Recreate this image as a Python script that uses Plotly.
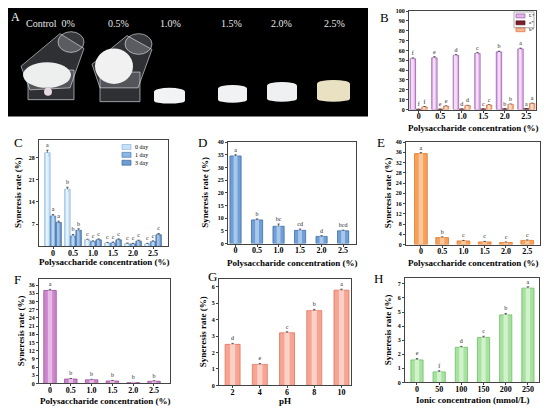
import plotly.graph_objects as go

# The page body has an 8 px margin, so the figure is drawn 8 px smaller and all
# layout positions (in reference pixels) are shifted by that margin.
PAGE_W, PAGE_H, PAD = 550, 415, 8
W, H = PAGE_W - PAD, PAGE_H - PAD
FONT = "Liberation Serif"

# ---------------- data ----------------
conc = ["0", "0.5", "1.0", "1.5", "2.0", "2.5"]
ph_labels = ["2", "4", "6", "8", "10"]
ion_labels = ["0", "50", "100", "150", "200", "250"]

# B: colour (L*, a*, b*)
B_L = [51.5, 52.5, 55.0, 57.0, 58.5, 61.5]
B_L_err = [1.0, 1.2, 0.8, 0.9, 0.7, 0.8]
B_L_sig = ["f", "e", "d", "c", "b", "a"]
B_a = [0.2, 0.3, 0.4, 0.5, 0.6, 0.7]
B_a_err = [0.1, 0.1, 0.1, 0.1, 0.1, 0.1]
B_a_sig = ["f", "e", "d", "c", "b", "a"]
B_b = [2.6, 3.4, 4.0, 4.5, 5.3, 6.2]
B_b_err = [0.3, 0.3, 0.3, 0.3, 0.3, 0.3]
B_b_sig = ["f", "e", "d", "c", "b", "a"]

# C: storage days
C_d0 = [29.5, 18.0, 2.0, 1.0, 0.8, 0.7]
C_d0_err = [0.8, 0.6, 0.2, 0.2, 0.2, 0.2]
C_d0_sig = ["a", "b", "c", "c", "c", "c"]
C_d1 = [9.5, 3.2, 1.4, 1.0, 0.7, 1.4]
C_d1_err = [0.5, 0.5, 0.3, 0.3, 0.2, 0.3]
C_d1_sig = ["a", "b", "c", "c", "c", "c"]
C_d3 = [7.5, 5.0, 2.0, 2.0, 1.6, 3.6]
C_d3_err = [0.4, 0.5, 0.3, 0.3, 0.3, 0.4]
C_d3_sig = ["a", "b", "c", "c", "c", "c"]

# D
D_val = [34.5, 9.3, 6.8, 5.2, 2.8, 5.0]
D_err = [0.5, 0.4, 0.9, 0.5, 0.3, 0.3]
D_sig = ["a", "b", "bc", "cd", "d", "bcd"]
# E
E_val = [35.5, 2.7, 1.4, 1.0, 0.8, 1.6]
E_err = [0.4, 0.3, 0.2, 0.2, 0.2, 0.2]
E_sig = ["a", "b", "c", "c", "c", "c"]
# F
F_val = [34.0, 1.6, 1.3, 0.9, 0.3, 0.8]
F_err = [0.4, 0.2, 0.2, 0.2, 0.1, 0.2]
F_sig = ["a", "b", "b", "b", "b", "b"]
# G (pH)
G_val = [2.5, 1.28, 3.2, 4.55, 5.8]
G_err = [0.06, 0.05, 0.07, 0.08, 0.06]
G_sig = ["d", "e", "c", "b", "a"]
# H (ionic)
H_val = [1.6, 0.75, 2.5, 3.2, 4.8, 6.7]
H_err = [0.1, 0.08, 0.06, 0.08, 0.1, 0.1]
H_sig = ["e", "f", "d", "c", "b", "a"]

# ---------------- helpers ----------------
def px(x):
    return (x - PAD) / W

def py(y):
    return 1 - (y - PAD) / H

def clamp(v):
    return min(1.0, max(0.0, v))

fig = go.Figure()
shapes = []
annotations = []

def text_at(t, x, y, size, color="black", bold=False, angle=0, anchor="center"):
    annotations.append(dict(text=f"<b>{t}</b>" if bold else t, x=px(x), y=py(y),
                            xref="paper", yref="paper", showarrow=False,
                            xanchor=anchor, yanchor="middle", textangle=angle,
                            font=dict(family=FONT, size=size, color=color)))

def setup_axes(n, xbox, ybox, xr, yr, ticktext, yticks, xtitle, xt_y, ytitle=None, yt_x=None):
    xa = "xaxis" if n == 1 else f"xaxis{n}"
    ya = "yaxis" if n == 1 else f"yaxis{n}"
    xid = "x" if n == 1 else f"x{n}"
    yid = "y" if n == 1 else f"y{n}"
    common = dict(showline=True, mirror=True, linecolor="#444", linewidth=1,
                  ticks="outside", ticklen=2, tickwidth=1, tickcolor="#444",
                  showgrid=False, zeroline=False)
    fig.update_layout(**{
        xa: dict(domain=[clamp(px(xbox[0])), clamp(px(xbox[1]))], anchor=yid, range=xr,
                 tickvals=list(range(len(ticktext))), ticktext=ticktext,
                 ticklabelstandoff=-3,
                 tickfont=dict(family=FONT, size=8, color="black", weight="bold"),
                 **common),
        ya: dict(domain=[clamp(py(ybox[1])), clamp(py(ybox[0]))], anchor=xid, range=yr,
                 tickvals=yticks,
                 tickfont=dict(family=FONT, size=6, color="black", weight="bold"),
                 **common),
    })
    text_at(xtitle, (xbox[0] + xbox[1]) / 2, xt_y, 9, bold=True)
    if ytitle:
        text_at(ytitle, yt_x, (ybox[0] + ybox[1]) / 2, 9, bold=True, angle=-90)
    return xid, yid

def bars(xid, yid, vals, errs, sigs, color, edge, width, offset, ymax, light=None):
    xs = list(range(len(vals)))
    fig.add_trace(go.Bar(
        x=xs, y=vals, width=width, offset=offset - width / 2, xaxis=xid, yaxis=yid,
        marker=dict(color=color, line=dict(color=edge, width=0.8)),
        error_y=dict(type="data", array=errs, color="#333", thickness=0.7, width=1.2),
        showlegend=False, hoverinfo="skip"))
    if light is not None:
        fig.add_trace(go.Bar(
            x=xs, y=vals, width=width * 0.35, offset=offset - width * 0.35 / 2,
            xaxis=xid, yaxis=yid, marker=dict(color=light, line=dict(width=0)),
            showlegend=False, hoverinfo="skip"))
    fig.add_trace(go.Scatter(
        x=[x + offset for x in xs],
        y=[v + e + ymax * 0.015 for v, e in zip(vals, errs)],
        mode="text", text=sigs, textposition="top center",
        textfont=dict(family=FONT, size=6, color="#222"),
        xaxis=xid, yaxis=yid, showlegend=False, hoverinfo="skip", cliponaxis=False))

def legend_box(x0, y0, rows, color_list, edge_list, fs):
    for i, (lab, c, e) in enumerate(zip(rows, color_list, edge_list)):
        yy = y0 + i * (fs + 2)
        shapes.append(dict(type="rect", xref="paper", yref="paper",
                           x0=px(x0), x1=px(x0 + 9), y0=py(yy + fs / 2 - 0.5), y1=py(yy - fs / 2 + 0.5),
                           fillcolor=c, line=dict(color=e, width=0.7)))
        text_at(lab, x0 + 11, yy, fs, anchor="left")

YT = "Syneresis rate (%)"
XT = "Polysaccharide concentration (%)"

# ---------------- panel B ----------------
xid, yid = setup_axes(1, (409, 536), (8, 108), [-0.45, 5.45], [0, 100], conc,
                      list(range(0, 101, 10)), XT, 127)
bars(xid, yid, B_L, B_L_err, B_L_sig, "#E2B4EA", "#9A5AAE", 0.25, -0.27, 100, "#F3DDF6")
bars(xid, yid, B_a, B_a_err, B_a_sig, "#7A1F2E", "#5A1020", 0.25, 0.0, 100)
bars(xid, yid, B_b, B_b_err, B_b_sig, "#F6B48E", "#E07040", 0.25, 0.27, 100, "#FBDCC8")
legend_box(516, 13, ["L*", "a*", "b*"], ["#E2B4EA", "#7A1F2E", "#F6B48E"],
           ["#9A5AAE", "#5A1020", "#E07040"], 5)
shapes.append(dict(type="rect", xref="paper", yref="paper", x0=px(514), x1=px(534),
                   y0=py(25), y1=py(9), line=dict(color="#777", width=0.6)))

# ---------------- panel C ----------------
xid, yid = setup_axes(2, (39, 168), (139, 246.7), [-0.7, 5.75], [0, 33.5], conc,
                      [7, 14, 21, 28], XT, 263, YT, 18)
bars(xid, yid, C_d0, C_d0_err, C_d0_sig, "#C9E1F5", "#8AB8E0", 0.27, -0.28, 33, "#E6F2FB")
bars(xid, yid, C_d1, C_d1_err, C_d1_sig, "#8DB6E0", "#4A7DB8", 0.27, 0.0, 33, "#B9D4EE")
bars(xid, yid, C_d3, C_d3_err, C_d3_sig, "#6F9DD0", "#3A66A0", 0.27, 0.28, 33, "#A2C2E6")
legend_box(122, 146, ["0 day", "1 day", "3 day"], ["#C9E1F5", "#8DB6E0", "#6F9DD0"],
           ["#8AB8E0", "#4A7DB8", "#3A66A0"], 6)

# ---------------- panel D ----------------
xid, yid = setup_axes(3, (228, 356), (141, 244), [-0.35, 5.6], [0, 40], conc,
                      list(range(0, 41, 5)), XT, 264, YT, 205)
bars(xid, yid, D_val, D_err, D_sig, "#6F9FD6", "#3F6FA8", 0.52, 0.0, 40, "#A9C7EA")

# ---------------- panel E ----------------
xid, yid = setup_axes(4, (406, 540), (141, 245), [-0.7, 5.6], [0, 40], conc,
                      list(range(0, 41, 4)), XT, 264, YT, 388)
bars(xid, yid, E_val, E_err, E_sig, "#F6A05C", "#E07A2A", 0.6, 0.0, 40, "#FAC89C")

# ---------------- panel F ----------------
xid, yid = setup_axes(5, (39, 170), (280, 386), [-0.53, 5.77], [0, 38.2], conc,
                      list(range(0, 37, 3)), XT, 404, YT, 21)
bars(xid, yid, F_val, F_err, F_sig, "#CC86CC", "#9A4E9A", 0.6, 0.0, 38, "#E6BCE6")

# ---------------- panel G ----------------
xid, yid = setup_axes(6, (219, 351), (280, 388), [-0.5, 4.35], [0, 6.48], ph_labels,
                      list(range(0, 7)), "pH", 404, YT, 203)
bars(xid, yid, G_val, G_err, G_sig, "#F7A592", "#E0735E", 0.55, 0.0, 6.5, "#FBD0C6")

# ---------------- panel H ----------------
xid, yid = setup_axes(7, (405, 539), (279, 385), [-0.54, 5.5], [0, 7.42], ion_labels,
                      list(range(0, 8)), "Ionic concentration (mmol/L)", 403, YT, 388)
bars(xid, yid, H_val, H_err, H_sig, "#A8E2A0", "#6CBF64", 0.55, 0.0, 7.4, "#D2F2CC")

# ---------------- panel A (photo placeholder) ----------------
def poly(points, fill, line="rgba(0,0,0,0)", lw=0):
    d = "M " + " L ".join(f"{px(x):.4f},{py(y):.4f}" for x, y in points) + " Z"
    shapes.append(dict(type="path", path=d, xref="paper", yref="paper",
                       fillcolor=fill, line=dict(color=line, width=lw), layer="above"))

def ellipse(x0, x1, y0, y1, fill, line="rgba(0,0,0,0)", lw=0):
    shapes.append(dict(type="circle", xref="paper", yref="paper", x0=px(x0), x1=px(x1),
                       y0=py(y1), y1=py(y0), fillcolor=fill, line=dict(color=line, width=lw),
                       layer="above"))

shapes.insert(0, dict(type="rect", xref="paper", yref="paper", x0=px(4), x1=px(368),
                      y0=py(115), y1=py(3), fillcolor="black", line=dict(width=0), layer="below"))
glass = "rgba(215,220,230,0.22)"
glass_edge = "rgba(235,238,245,0.75)"
# control cup: stand, tilted beaker, white contents
poly([(28, 68), (74, 68), (74, 98), (28, 98)], glass, glass_edge, 0.8)
poly([(21, 64), (60, 31), (84, 46), (70, 86), (30, 88)], glass, glass_edge, 0.8)
ellipse(58, 84, 29, 50, "rgba(220,225,235,0.25)", glass_edge, 0.8)
ellipse(23, 71, 60, 86, "#EDEFEE")
ellipse(44, 52, 86, 94, "#E8D8E0")
# 0.5% cup
poly([(100, 70), (140, 70), (140, 100), (100, 100)], glass, glass_edge, 0.8)
poly([(92, 62), (127, 33), (152, 47), (138, 86), (100, 86)], glass, glass_edge, 0.8)
ellipse(125, 152, 31, 52, "rgba(220,225,235,0.25)", glass_edge, 0.8)
ellipse(95, 133, 46, 82, "#F0F1F0")
# gel discs
for (x0, x1, y0, y1, c) in [(154, 185, 86, 102, "#F2F3F5"), (218, 247, 83, 101, "#F0F2F4"),
                            (267, 297, 80, 100, "#EEF0F2"), (317, 350, 78, 100, "#EAE1C2")]:
    shapes.append(dict(type="rect", xref="paper", yref="paper", x0=px(x0), x1=px(x1),
                       y0=py(y1 - 3), y1=py(y0 + 4), fillcolor=c, line=dict(width=0), layer="above"))
    ellipse(x0, x1, y0, y0 + 8, c)
    ellipse(x0, x1, y1 - 6, y1, c)

text_at("A", 15, 14, 12, color="white")
for t, xc in [("Control  0%", 50), ("0.5%", 118), ("1.0%", 170), ("1.5%", 231),
              ("2.0%", 281), ("2.5%", 334)]:
    text_at(t, xc, 21, 10, color="#E8E8E8")

text_at("B", 384, 15, 13)
text_at("C", 18, 141, 13)
text_at("D", 202, 141, 13)
text_at("E", 381, 141, 13)
text_at("F", 17, 281, 13)
text_at("G", 212, 277, 13)
text_at("H", 378, 280, 13)

fig.update_layout(width=W, height=H, margin=dict(l=0, r=0, t=0, b=0),
                  paper_bgcolor="white", plot_bgcolor="white", barmode="overlay",
                  shapes=shapes, annotations=annotations, showlegend=False)
fig.write_html("out.html")
